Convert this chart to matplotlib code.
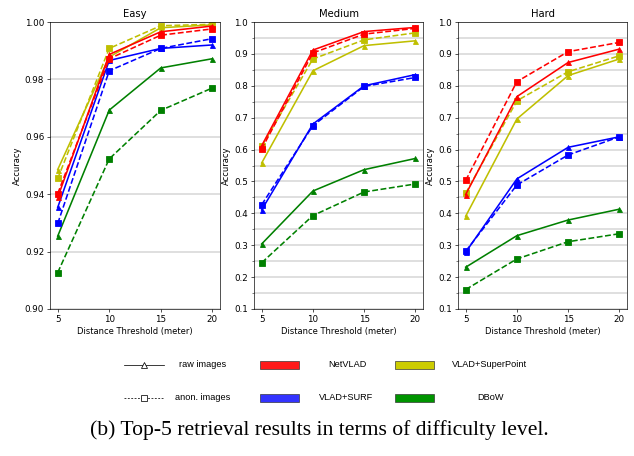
import matplotlib
matplotlib.use("Agg")
import matplotlib.pyplot as plt
from matplotlib.ticker import MultipleLocator
from matplotlib.lines import Line2D
from matplotlib.patches import Rectangle

thresholds = [5, 10, 15, 20]
levels = ["Easy", "Medium", "Hard"]
methods = ["NetVLAD", "VLAD+SURF", "VLAD+SuperPoint", "DBoW"]
line_colors = {"NetVLAD": "r", "VLAD+SURF": "b", "VLAD+SuperPoint": "y", "DBoW": "g"}
patch_colors = {"NetVLAD": "#ff1a1a", "VLAD+SURF": "#3333ff", "VLAD+SuperPoint": "#cccc00", "DBoW": "#009400"}

# raw images (solid, triangle)
easy_raw = {
    "NetVLAD": [0.9389, 0.9887, 0.9966, 0.9986],
    "VLAD+SURF": [0.9354, 0.9866, 0.9908, 0.9920],
    "VLAD+SuperPoint": [0.9486, 0.9878, 0.9980, 0.9990],
    "DBoW": [0.9254, 0.9693, 0.9840, 0.9872],
}
# anonymized images (dashed, square)
easy_anon = {
    "NetVLAD": [0.9402, 0.9872, 0.9954, 0.9976],
    "VLAD+SURF": [0.9298, 0.9830, 0.9908, 0.9942],
    "VLAD+SuperPoint": [0.9455, 0.9908, 0.9987, 0.9992],
    "DBoW": [0.9127, 0.9523, 0.9692, 0.9770],
}
medium_raw = {
    "NetVLAD": [0.612, 0.912, 0.970, 0.983],
    "VLAD+SURF": [0.411, 0.680, 0.800, 0.835],
    "VLAD+SuperPoint": [0.558, 0.847, 0.926, 0.941],
    "DBoW": [0.304, 0.470, 0.537, 0.572],
}
medium_anon = {
    "NetVLAD": [0.602, 0.903, 0.962, 0.980],
    "VLAD+SURF": [0.427, 0.675, 0.798, 0.826],
    "VLAD+SuperPoint": [0.610, 0.884, 0.944, 0.966],
    "DBoW": [0.245, 0.393, 0.467, 0.492],
}
hard_raw = {
    "NetVLAD": [0.459, 0.766, 0.873, 0.915],
    "VLAD+SURF": [0.278, 0.508, 0.607, 0.640],
    "VLAD+SuperPoint": [0.391, 0.696, 0.832, 0.884],
    "DBoW": [0.231, 0.330, 0.379, 0.413],
}
hard_anon = {
    "NetVLAD": [0.503, 0.813, 0.907, 0.936],
    "VLAD+SURF": [0.281, 0.489, 0.583, 0.640],
    "VLAD+SuperPoint": [0.463, 0.753, 0.844, 0.894],
    "DBoW": [0.161, 0.257, 0.311, 0.336],
}

data = {
    "Easy": (easy_raw, easy_anon),
    "Medium": (medium_raw, medium_anon),
    "Hard": (hard_raw, hard_anon),
}

W, H = 634, 456
fig = plt.figure(figsize=(W / 60, H / 60), dpi=60)

ax_boxes = [(50, 22, 220, 309), (254, 22, 423, 309), (458, 22, 627, 309)]
plot_order = ["DBoW", "VLAD+SURF", "VLAD+SuperPoint", "NetVLAD"]

for lvl, (x0, y0, x1, y1) in zip(levels, ax_boxes):
    ax = fig.add_axes([x0 / W, 1 - y1 / H, (x1 - x0) / W, (y1 - y0) / H])
    raw, anon = data[lvl]
    for m in plot_order:
        c = line_colors[m]
        ax.plot(thresholds, anon[m], linestyle="--", marker="s", color=c, markersize=7, linewidth=1.9)
        ax.plot(thresholds, raw[m], linestyle="-", marker="^", color=c, markersize=6, linewidth=1.9)
    ax.set_xticks(thresholds)
    if lvl == "Easy":
        ax.set_ylim(0.90, 1.00)
        ax.yaxis.set_major_locator(MultipleLocator(0.02))
        ax.yaxis.grid(True, which="major", color="#d9d9d9", linewidth=2)
    else:
        ax.set_ylim(0.1, 1.0)
        ax.yaxis.set_major_locator(MultipleLocator(0.1))
        ax.yaxis.set_minor_locator(MultipleLocator(0.05))
        ax.yaxis.grid(True, which="both", color="#d9d9d9", linewidth=2)
    ax.set_axisbelow(True)
    ax.set_title(lvl, fontsize=12)
    ax.set_xlabel("Distance Threshold (meter)", fontsize=10)
    ax.set_ylabel("Accuracy", fontsize=10)
    ax.tick_params(labelsize=10.5)

def fx(px):
    return px / W

def fy(py):
    return 1 - py / H

legend_font = dict(family="Liberation Sans", fontsize=11, va="center", ha="center")

# line-style keys
row1, row2 = 364.5, 397.5
fig.add_artist(Line2D([fx(124), fx(164)], [fy(row1), fy(row1)], color="black", linewidth=0.9,
                      transform=fig.transFigure))
fig.add_artist(Line2D([fx(144)], [fy(row1)], color="black", marker="^", markersize=7,
                      markerfacecolor="white", markeredgewidth=0.9, linestyle="none", transform=fig.transFigure))
fig.add_artist(Line2D([fx(124), fx(164)], [fy(row2), fy(row2)], color="black", linewidth=0.9,
                      linestyle=(0, (2.5, 2.0)), transform=fig.transFigure))
fig.add_artist(Line2D([fx(144)], [fy(row2)], color="black", marker="s", markersize=7,
                      markerfacecolor="white", markeredgewidth=0.9, linestyle="none", transform=fig.transFigure))
fig.text(fx(203), fy(row1), "raw images", **legend_font)
fig.text(fx(203), fy(row2), "anon. images", **legend_font)

patch_pos = {
    "NetVLAD": (260, row1, 347),
    "VLAD+SURF": (260, row2, 346),
    "VLAD+SuperPoint": (395, row1, 490),
    "DBoW": (395, row2, 490),
}
for m in methods:
    px, py, tx = patch_pos[m]
    fig.add_artist(Rectangle((fx(px), fy(py + 4)), 39 / W, 8 / H, facecolor=patch_colors[m],
                             edgecolor="#333333", linewidth=0.8, transform=fig.transFigure))
    fig.text(fx(tx), fy(py), m, **legend_font)

fig.text(fx(319), fy(430), "(b) Top-5 retrieval results in terms of difficulty level.",
         family="Liberation Serif", fontsize=26, ha="center", va="center")

fig.savefig("out.png", dpi=60)
